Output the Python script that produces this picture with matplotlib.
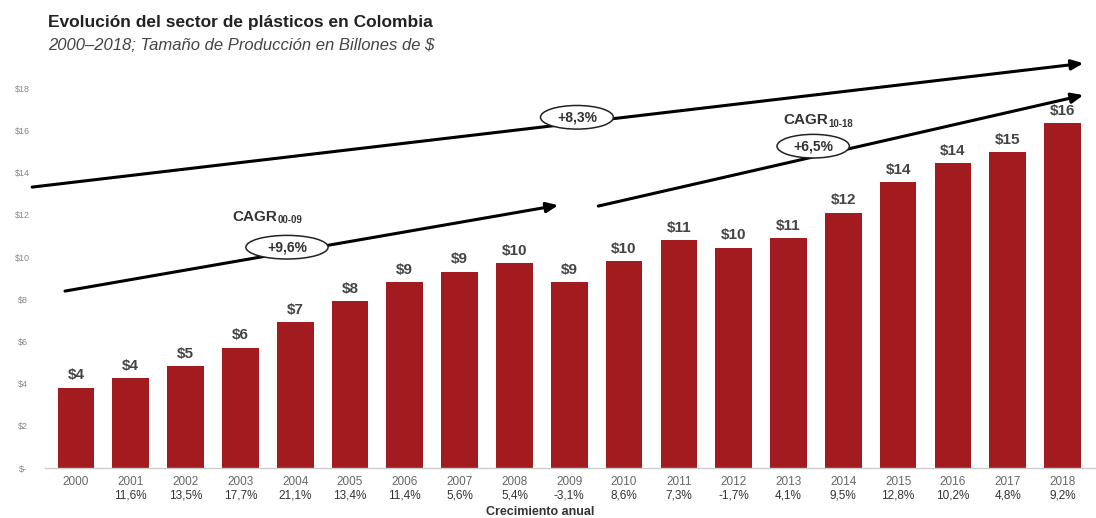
import matplotlib.pyplot as plt
from matplotlib.patches import Ellipse

plt.rcParams['font.family'] = ['Liberation Sans', 'DejaVu Sans']

years = ['2000', '2001', '2002', '2003', '2004', '2005', '2006', '2007', '2008', '2009',
         '2010', '2011', '2012', '2013', '2014', '2015', '2016', '2017', '2018']
produccion = [3.8, 4.25, 4.83, 5.7, 6.9, 7.9, 8.8, 9.3, 9.7, 8.8,
              9.8, 10.8, 10.45, 10.9, 12.1, 13.55, 14.45, 14.98, 16.35]
crecimiento = ['', '11,6%', '13,5%', '17,7%', '21,1%', '13,4%', '11,4%', '5,6%', '5,4%', '-3,1%',
               '8,6%', '7,3%', '-1,7%', '4,1%', '9,5%', '12,8%', '10,2%', '4,8%', '9,2%']
yticks = [0, 2, 4, 6, 8, 10, 12, 14, 16, 18]
ytick_labels = ['$-', '$2', '$4', '$6', '$8', '$10', '$12', '$14', '$16', '$18']

fig = plt.figure(figsize=(10.96, 5.18), dpi=100)
ax = fig.add_axes([0.041, 0.0965, 0.959, 0.798])

x = list(range(len(years)))
bars = ax.bar(x, produccion, width=0.67, color='#A21B1F', zorder=2)

for xi, v in zip(x, produccion):
    ax.annotate('$' + str(int(round(v))), (xi, v), xytext=(0, 4), textcoords='offset points',
                ha='center', va='bottom', fontsize=11, fontweight='bold', color='#444444')

ax.set_xlim(-0.566, 18.61)
ax.set_ylim(0, 19.6)

ax.set_yticks(yticks)
ax.set_yticklabels(ytick_labels, fontsize=6.5, color='#888888', ha='center')
ax.tick_params(axis='y', length=0, pad=16)

ax.set_xticks(x)
ax.set_xticklabels(years, fontsize=8.5, color='#666666')
ax.tick_params(axis='x', length=0, pad=6)

for xi, g in zip(x, crecimiento):
    ax.text(xi, -0.066, g, transform=ax.get_xaxis_transform(), ha='center', va='center',
            fontsize=8.5, color='#333333')

for s in ['top', 'right', 'left']:
    ax.spines[s].set_visible(False)
ax.spines['bottom'].set_color('#cccccc')
ax.spines['bottom'].set_linewidth(1)

# tendencias CAGR
arrow = dict(arrowstyle='-|>,head_length=0.7,head_width=0.3', color='black', lw=2.2,
             shrinkA=0, shrinkB=0)
ax.annotate('', xy=(18.38, 19.19), xytext=(-0.80, 13.32), arrowprops=arrow, zorder=3)
ax.annotate('', xy=(8.80, 12.46), xytext=(-0.20, 8.39), arrowprops=arrow, zorder=3)
ax.annotate('', xy=(18.38, 17.68), xytext=(9.53, 12.42), arrowprops=arrow, zorder=3)

ovals = [(3.85, 10.47, '+9,6%', 1.5), (9.14, 16.63, '+8,3%', 1.33), (13.45, 15.26, '+6,5%', 1.32)]
for ox, oy, txt, w in ovals:
    ax.add_patch(Ellipse((ox, oy), w, 1.12, facecolor='white', edgecolor='#222222', lw=1.1,
                         zorder=4, clip_on=False))
    ax.text(ox, oy, txt, ha='center', va='center', fontsize=10, fontweight='bold',
            color='#333333', zorder=5)

for cx, cy, sub in [(2.85, 11.9, '00-09'), (12.9, 16.49, '10-18')]:
    t = ax.text(cx, cy, 'CAGR', ha='left', va='center', fontsize=11, fontweight='bold',
                color='#333333', zorder=5)
    ax.annotate(sub, xy=(1, 0), xycoords=t, xytext=(0.5, -1), textcoords='offset points',
                ha='left', va='bottom', fontsize=7, fontweight='bold', color='#333333')

fig.text(0.044, 0.957, 'Evolución del sector de plásticos en Colombia', fontsize=12.5,
         fontweight='bold', color='#222222', va='center')
fig.text(0.044, 0.913, '2000–2018; Tamaño de Producción en Billones de $', fontsize=12,
         style='italic', color='#444444', va='center')
fig.text(0.493, 0.011, 'Crecimiento anual', fontsize=9, fontweight='bold', color='#333333',
         ha='center', va='center')

plt.savefig('out.png', dpi=100)
